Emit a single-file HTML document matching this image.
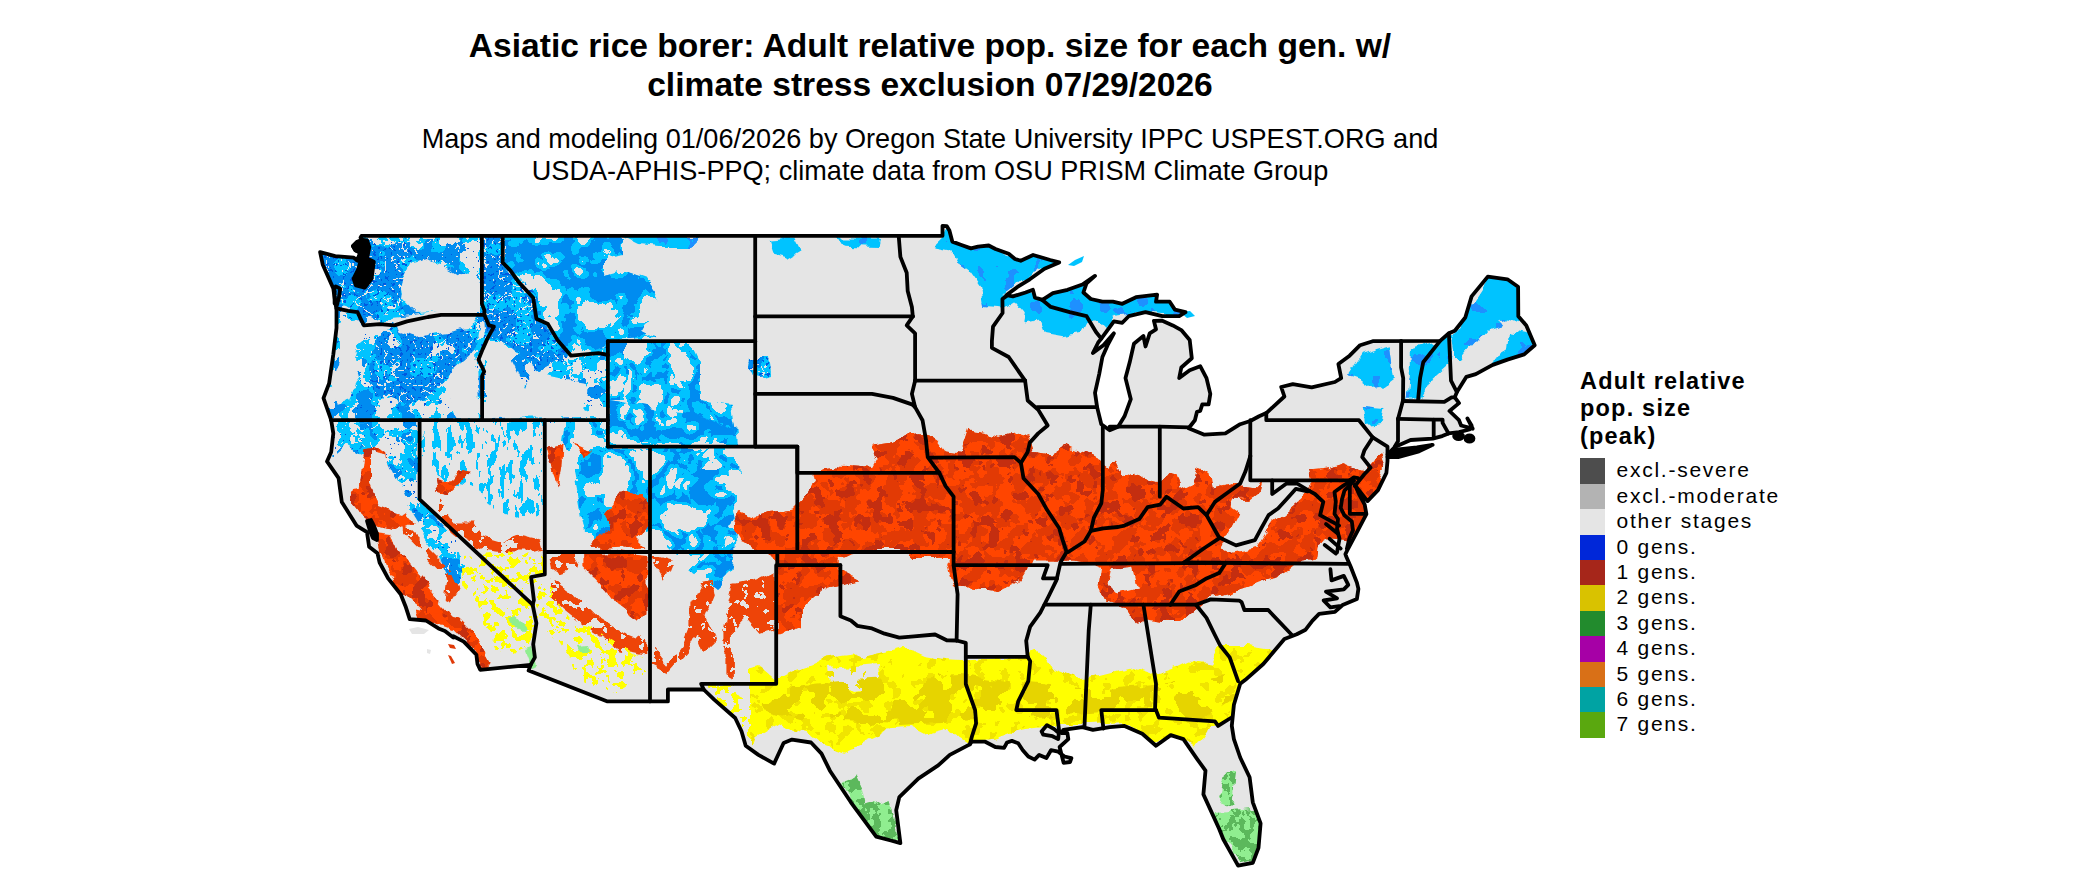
<!DOCTYPE html>
<html><head><meta charset="utf-8">
<style>
html,body{margin:0;padding:0;background:#fff;width:2100px;height:892px;overflow:hidden}
body{position:relative;font-family:"Liberation Sans",sans-serif;color:#000}
.t{position:absolute;left:0;width:1860px;text-align:center;white-space:nowrap}
svg{position:absolute;left:0;top:0}
.lb{position:absolute;left:36.5px;font-size:21px;line-height:27px;letter-spacing:1.75px;white-space:nowrap}
</style></head><body>
<svg width="2100" height="892" viewBox="0 0 2100 892">
<defs><clipPath id="land"><polygon points="361.5,235.8 942.5,235.8 942.5,225.8 946.7,226.1 949.4,230.5 952.3,241.6 961.4,245.0 970.9,248.4 978.0,246.6 988.7,245.5 995.5,249.0 1008.7,253.7 1015.0,259.0 1020.7,260.8 1033.1,255.0 1050.2,260.0 1059.2,262.4 1044.5,268.7 1029.8,279.3 1017.1,287.2 1006.6,295.1 1012.9,296.4 1025.6,292.5 1032.9,289.8 1035.0,297.7 1042.4,299.8 1052.9,293.2 1067.6,289.8 1082.4,284.5 1095.0,275.9 1086.6,283.2 1083.4,292.5 1090.8,299.0 1102.4,301.7 1112.9,301.7 1122.3,303.8 1136.0,297.2 1157.1,294.6 1156.0,301.7 1169.7,301.7 1174.9,309.6 1185.5,312.2 1179.2,316.2 1162.3,316.2 1145.5,312.2 1128.7,316.2 1122.3,322.8 1113.9,321.4 1101.3,338.6 1098.2,342.5 1092.9,353.1 1103.4,345.2 1113.9,333.3 1107.6,345.2 1102.4,357.0 1099.2,374.1 1095.0,392.8 1097.1,407.1 1101.3,424.2 1109.7,430.3 1118.1,426.8 1124.5,416.3 1130.8,399.2 1125.5,378.1 1129.7,362.3 1133.9,343.8 1143.4,335.9 1145.5,346.5 1149.7,333.3 1156.0,329.3 1153.9,320.9 1161.7,320.6 1172.8,325.4 1181.3,330.1 1189.7,339.9 1191.8,358.3 1181.3,367.5 1179.2,378.1 1189.7,370.2 1200.2,366.2 1206.5,378.1 1210.3,393.9 1208.6,404.4 1202.3,404.4 1200.2,411.0 1197.0,411.8 1194.9,420.2 1188.6,428.2 1204.4,434.7 1225.4,433.4 1240.2,424.2 1250.3,421.0 1259.1,416.3 1266.3,413.1 1284.4,396.5 1281.2,387.0 1292.8,384.2 1311.7,387.3 1334.9,382.0 1341.2,378.1 1338.4,364.1 1349.6,355.7 1360.1,345.2 1372.7,341.2 1440.1,340.9 1448.9,333.3 1454.8,330.7 1465.3,317.5 1471.6,296.4 1487.8,276.6 1507.4,279.3 1518.1,286.7 1518.3,316.2 1526.3,325.4 1534.7,345.2 1524.2,354.4 1507.4,359.6 1492.7,364.9 1475.8,374.1 1466.4,376.8 1456.9,392.1 1454.8,397.3 1459.0,403.1 1449.5,411.0 1459.0,420.2 1461.1,425.5 1472.7,428.7 1467.4,418.4 1471.6,425.5 1469.5,429.5 1459.0,432.1 1448.5,433.4 1442.2,436.1 1432.7,438.7 1410.6,440.0 1394.8,447.1 1387.5,454.5 1387.5,461.1 1386.4,472.9 1378.0,490.1 1367.5,501.1 1354.8,484.8 1359.0,494.0 1364.7,504.6 1366.4,514.1 1358.0,530.1 1347.1,550.7 1345.4,554.1 1346.0,556.0 1350.6,566.5 1356.9,582.6 1358.4,588.9 1356.9,598.9 1342.6,605.0 1334.9,611.8 1319.1,613.9 1312.3,620.8 1305.6,629.7 1296.8,634.2 1284.4,639.0 1263.3,664.0 1245.4,679.8 1240.2,683.8 1233.9,704.8 1231.8,725.9 1233.9,739.1 1240.2,757.5 1249.6,777.3 1252.8,802.3 1260.6,823.4 1258.5,847.9 1252.8,862.9 1238.1,865.6 1223.3,839.2 1219.1,828.7 1203.4,794.4 1205.5,770.7 1197.0,758.8 1183.4,739.1 1170.7,735.1 1156.0,745.7 1142.3,733.8 1124.5,725.9 1109.7,727.2 1092.9,729.9 1082.4,727.2 1063.4,729.9 1061.3,733.0 1067.4,733.0 1068.3,739.1 1059.6,747.0 1063.6,762.8 1070.0,762.0 1071.4,758.1 1064.5,756.5 1058.2,751.7 1051.0,750.2 1046.4,758.1 1039.2,754.9 1034.6,759.6 1028.3,756.5 1022.8,750.2 1018.2,743.3 1011.9,740.9 1007.0,742.5 1004.1,747.8 995.3,747.0 985.2,741.7 971.9,741.7 969.8,744.4 949.8,754.9 938.2,765.4 918.3,778.6 899.3,797.1 896.2,810.2 900.4,843.2 890.9,840.5 876.2,836.6 850.9,802.3 829.9,770.7 821.5,753.6 811.0,742.5 792.0,739.6 783.6,743.0 774.1,763.6 758.4,754.9 745.7,745.7 741.5,731.2 735.2,718.0 714.2,699.6 703.7,689.5 667.9,689.5 667.9,701.4 607.5,701.4 528.6,670.6 530.7,664.8 480.2,669.8 477.5,664.0 476.4,654.8 463.8,641.6 453.3,636.3 453.3,637.6 444.9,631.0 438.5,628.4 425.9,620.5 409.7,619.2 405.9,607.3 400.7,594.2 388.1,578.4 379.6,562.5 377.5,553.3 369.1,546.7 367.0,532.2 356.5,525.6 341.8,501.9 338.6,478.2 327.0,461.4 331.2,451.9 333.3,433.4 331.2,420.2 323.5,398.1 329.1,383.4 333.3,354.4 336.5,328.0 336.5,309.6 334.4,296.4 333.3,288.5 322.8,264.8 320.1,252.1 335.2,256.1 353.8,257.7 357.1,260.3 360.5,252.9 355.4,250.3 352.9,246.1 357.1,241.9 362.2,240.0 360.5,237.6"/></clipPath><filter id="bmed" x="0" y="0" width="2100" height="892" filterUnits="userSpaceOnUse" color-interpolation-filters="sRGB"><feTurbulence type="fractalNoise" baseFrequency="0.05" numOctaves="3" seed="301" result="dn"/><feDisplacementMap in="SourceGraphic" in2="dn" scale="12" xChannelSelector="R" yChannelSelector="G" result="d"/><feTurbulence type="fractalNoise" baseFrequency="0.05" numOctaves="4" seed="11" result="t"/><feColorMatrix in="t" type="matrix" values="0 0 0 0 0  0 0 0 0 0  0 0 0 0 0  1 0 0 0 0" result="a"/><feComponentTransfer in="a" result="m"><feFuncA type="discrete" tableValues="0 0 0 0 0 0 0 0 0 0 1 1 1 1 1 1 1 1 1 1"/></feComponentTransfer><feComposite in="d" in2="m" operator="in"/></filter><filter id="bmedd" x="0" y="0" width="2100" height="892" filterUnits="userSpaceOnUse" color-interpolation-filters="sRGB"><feTurbulence type="fractalNoise" baseFrequency="0.05" numOctaves="3" seed="301" result="dn"/><feDisplacementMap in="SourceGraphic" in2="dn" scale="12" xChannelSelector="R" yChannelSelector="G" result="d"/><feTurbulence type="fractalNoise" baseFrequency="0.045" numOctaves="3" seed="23" result="t"/><feColorMatrix in="t" type="matrix" values="0 0 0 0 0  0 0 0 0 0  0 0 0 0 0  1 0 0 0 0" result="a"/><feComponentTransfer in="a" result="m"><feFuncA type="discrete" tableValues="0 0 0 0 0 0 0 0 0 0 0 0 1 1 1 1 1 1 1 1"/></feComponentTransfer><feComposite in="d" in2="m" operator="in"/></filter><filter id="bmeddd" x="0" y="0" width="2100" height="892" filterUnits="userSpaceOnUse" color-interpolation-filters="sRGB"><feTurbulence type="fractalNoise" baseFrequency="0.05" numOctaves="3" seed="301" result="dn"/><feDisplacementMap in="SourceGraphic" in2="dn" scale="12" xChannelSelector="R" yChannelSelector="G" result="d"/><feTurbulence type="fractalNoise" baseFrequency="0.3" numOctaves="2" seed="25" result="t"/><feColorMatrix in="t" type="matrix" values="0 0 0 0 0  0 0 0 0 0  0 0 0 0 0  1 0 0 0 0" result="a"/><feComponentTransfer in="a" result="m"><feFuncA type="discrete" tableValues="0 0 0 0 0 0 0 0 0 0 0 0 0 0 0 1 1 1 1 1"/></feComponentTransfer><feComposite in="d" in2="m" operator="in"/></filter><filter id="gspkm" x="0" y="0" width="2100" height="892" filterUnits="userSpaceOnUse" color-interpolation-filters="sRGB"><feTurbulence type="fractalNoise" baseFrequency="0.05" numOctaves="3" seed="301" result="dn"/><feDisplacementMap in="SourceGraphic" in2="dn" scale="12" xChannelSelector="R" yChannelSelector="G" result="d"/><feTurbulence type="turbulence" baseFrequency="0.07" numOctaves="2" seed="47" result="t"/><feColorMatrix in="t" type="matrix" values="0 0 0 0 0  0 0 0 0 0  0 0 0 0 0  1 0 0 0 0" result="a"/><feComponentTransfer in="a" result="m"><feFuncA type="discrete" tableValues="1 0 0 0 0 0 0 0 0 0 0 0 0 0 0 0 0 0 0 0"/></feComponentTransfer><feComposite in="d" in2="m" operator="in"/></filter><filter id="bden" x="0" y="0" width="2100" height="892" filterUnits="userSpaceOnUse" color-interpolation-filters="sRGB"><feTurbulence type="fractalNoise" baseFrequency="0.05" numOctaves="3" seed="302" result="dn"/><feDisplacementMap in="SourceGraphic" in2="dn" scale="12" xChannelSelector="R" yChannelSelector="G" result="d"/><feTurbulence type="fractalNoise" baseFrequency="0.05" numOctaves="4" seed="31" result="t"/><feColorMatrix in="t" type="matrix" values="0 0 0 0 0  0 0 0 0 0  0 0 0 0 0  1 0 0 0 0" result="a"/><feComponentTransfer in="a" result="m"><feFuncA type="discrete" tableValues="0 0 0 0 0 0 0 0 1 1 1 1 1 1 1 1 1 1 1 1"/></feComponentTransfer><feComposite in="d" in2="m" operator="in"/></filter><filter id="bdend" x="0" y="0" width="2100" height="892" filterUnits="userSpaceOnUse" color-interpolation-filters="sRGB"><feTurbulence type="fractalNoise" baseFrequency="0.05" numOctaves="3" seed="302" result="dn"/><feDisplacementMap in="SourceGraphic" in2="dn" scale="12" xChannelSelector="R" yChannelSelector="G" result="d"/><feTurbulence type="fractalNoise" baseFrequency="0.045" numOctaves="3" seed="41" result="t"/><feColorMatrix in="t" type="matrix" values="0 0 0 0 0  0 0 0 0 0  0 0 0 0 0  1 0 0 0 0" result="a"/><feComponentTransfer in="a" result="m"><feFuncA type="discrete" tableValues="0 0 0 0 0 0 0 0 0 1 1 1 1 1 1 1 1 1 1 1"/></feComponentTransfer><feComposite in="d" in2="m" operator="in"/></filter><filter id="bdendd" x="0" y="0" width="2100" height="892" filterUnits="userSpaceOnUse" color-interpolation-filters="sRGB"><feTurbulence type="fractalNoise" baseFrequency="0.05" numOctaves="3" seed="302" result="dn"/><feDisplacementMap in="SourceGraphic" in2="dn" scale="12" xChannelSelector="R" yChannelSelector="G" result="d"/><feTurbulence type="fractalNoise" baseFrequency="0.3" numOctaves="2" seed="43" result="t"/><feColorMatrix in="t" type="matrix" values="0 0 0 0 0  0 0 0 0 0  0 0 0 0 0  1 0 0 0 0" result="a"/><feComponentTransfer in="a" result="m"><feFuncA type="discrete" tableValues="0 0 0 0 0 0 0 0 0 0 0 0 0 1 1 1 1 1 1 1"/></feComponentTransfer><feComposite in="d" in2="m" operator="in"/></filter><filter id="gspkd" x="0" y="0" width="2100" height="892" filterUnits="userSpaceOnUse" color-interpolation-filters="sRGB"><feTurbulence type="fractalNoise" baseFrequency="0.05" numOctaves="3" seed="302" result="dn"/><feDisplacementMap in="SourceGraphic" in2="dn" scale="12" xChannelSelector="R" yChannelSelector="G" result="d"/><feTurbulence type="turbulence" baseFrequency="0.07" numOctaves="2" seed="48" result="t"/><feColorMatrix in="t" type="matrix" values="0 0 0 0 0  0 0 0 0 0  0 0 0 0 0  1 0 0 0 0" result="a"/><feComponentTransfer in="a" result="m"><feFuncA type="discrete" tableValues="1 0 0 0 0 0 0 0 0 0 0 0 0 0 0 0 0 0 0 0"/></feComponentTransfer><feComposite in="d" in2="m" operator="in"/></filter><filter id="bnet" x="0" y="0" width="2100" height="892" filterUnits="userSpaceOnUse" color-interpolation-filters="sRGB"><feTurbulence type="fractalNoise" baseFrequency="0.05" numOctaves="3" seed="303" result="dn"/><feDisplacementMap in="SourceGraphic" in2="dn" scale="12" xChannelSelector="R" yChannelSelector="G" result="d"/><feTurbulence type="turbulence" baseFrequency="0.03" numOctaves="3" seed="105" result="t"/><feColorMatrix in="t" type="matrix" values="0 0 0 0 0  0 0 0 0 0  0 0 0 0 0  1 0 0 0 0" result="a"/><feComponentTransfer in="a" result="m"><feFuncA type="discrete" tableValues="1 1 1 1 1 1 0 0 0 0 0 0 0 0 0 0 0 0 0 0"/></feComponentTransfer><feComposite in="d" in2="m" operator="in"/></filter><filter id="bnetd" x="0" y="0" width="2100" height="892" filterUnits="userSpaceOnUse" color-interpolation-filters="sRGB"><feTurbulence type="fractalNoise" baseFrequency="0.05" numOctaves="3" seed="303" result="dn"/><feDisplacementMap in="SourceGraphic" in2="dn" scale="12" xChannelSelector="R" yChannelSelector="G" result="d"/><feTurbulence type="turbulence" baseFrequency="0.03" numOctaves="3" seed="105" result="t"/><feColorMatrix in="t" type="matrix" values="0 0 0 0 0  0 0 0 0 0  0 0 0 0 0  1 0 0 0 0" result="a"/><feComponentTransfer in="a" result="m"><feFuncA type="discrete" tableValues="1 1 1 0 0 0 0 0 0 0 0 0 0 0 0 0 0 0 0 0"/></feComponentTransfer><feComposite in="d" in2="m" operator="in"/></filter><filter id="bneth" x="0" y="0" width="2100" height="892" filterUnits="userSpaceOnUse" color-interpolation-filters="sRGB"><feTurbulence type="fractalNoise" baseFrequency="0.05" numOctaves="3" seed="304" result="dn"/><feDisplacementMap in="SourceGraphic" in2="dn" scale="12" xChannelSelector="R" yChannelSelector="G" result="d"/><feTurbulence type="turbulence" baseFrequency="0.03" numOctaves="3" seed="107" result="t"/><feColorMatrix in="t" type="matrix" values="0 0 0 0 0  0 0 0 0 0  0 0 0 0 0  1 0 0 0 0" result="a"/><feComponentTransfer in="a" result="m"><feFuncA type="discrete" tableValues="1 1 1 1 1 1 1 1 0 0 0 0 0 0 0 0 0 0 0 0"/></feComponentTransfer><feComposite in="d" in2="m" operator="in"/></filter><filter id="bnethd" x="0" y="0" width="2100" height="892" filterUnits="userSpaceOnUse" color-interpolation-filters="sRGB"><feTurbulence type="fractalNoise" baseFrequency="0.05" numOctaves="3" seed="304" result="dn"/><feDisplacementMap in="SourceGraphic" in2="dn" scale="12" xChannelSelector="R" yChannelSelector="G" result="d"/><feTurbulence type="turbulence" baseFrequency="0.03" numOctaves="3" seed="107" result="t"/><feColorMatrix in="t" type="matrix" values="0 0 0 0 0  0 0 0 0 0  0 0 0 0 0  1 0 0 0 0" result="a"/><feComponentTransfer in="a" result="m"><feFuncA type="discrete" tableValues="1 1 1 1 1 0 0 0 0 0 0 0 0 0 0 0 0 0 0 0"/></feComponentTransfer><feComposite in="d" in2="m" operator="in"/></filter><filter id="bsp" x="0" y="0" width="2100" height="892" filterUnits="userSpaceOnUse" color-interpolation-filters="sRGB"><feTurbulence type="fractalNoise" baseFrequency="0.05" numOctaves="3" seed="151" result="dn"/><feDisplacementMap in="SourceGraphic" in2="dn" scale="12" xChannelSelector="R" yChannelSelector="G" result="d"/><feTurbulence type="fractalNoise" baseFrequency="0.15 0.06" numOctaves="3" seed="51" result="t"/><feColorMatrix in="t" type="matrix" values="0 0 0 0 0  0 0 0 0 0  0 0 0 0 0  1 0 0 0 0" result="a"/><feComponentTransfer in="a" result="m"><feFuncA type="discrete" tableValues="0 0 0 0 0 0 0 0 0 0 0 1 1 1 1 1 1 1 1 1"/></feComponentTransfer><feComposite in="d" in2="m" operator="in"/></filter><filter id="bsold" x="0" y="0" width="2100" height="892" filterUnits="userSpaceOnUse" color-interpolation-filters="sRGB"><feTurbulence type="fractalNoise" baseFrequency="0.05" numOctaves="3" seed="202" result="dn"/><feDisplacementMap in="SourceGraphic" in2="dn" scale="12" xChannelSelector="R" yChannelSelector="G" result="d"/><feTurbulence type="fractalNoise" baseFrequency="0.06" numOctaves="3" seed="61" result="t"/><feColorMatrix in="t" type="matrix" values="0 0 0 0 0  0 0 0 0 0  0 0 0 0 0  1 0 0 0 0" result="a"/><feComponentTransfer in="a" result="m"><feFuncA type="discrete" tableValues="0 0 0 0 0 0 0 0 0 0 0 0 0 1 1 1 1 1 1 1"/></feComponentTransfer><feComposite in="d" in2="m" operator="in"/></filter><filter id="rmid" x="0" y="0" width="2100" height="892" filterUnits="userSpaceOnUse" color-interpolation-filters="sRGB"><feTurbulence type="fractalNoise" baseFrequency="0.05" numOctaves="3" seed="201" result="dn"/><feDisplacementMap in="SourceGraphic" in2="dn" scale="12" xChannelSelector="R" yChannelSelector="G" result="d"/><feTurbulence type="fractalNoise" baseFrequency="0.07" numOctaves="3" seed="71" result="t"/><feColorMatrix in="t" type="matrix" values="0 0 0 0 0  0 0 0 0 0  0 0 0 0 0  1 0 0 0 0" result="a"/><feComponentTransfer in="a" result="m"><feFuncA type="discrete" tableValues="0 0 0 0 0 0 0 0 0 0 1 1 1 1 1 1 1 1 1 1"/></feComponentTransfer><feComposite in="d" in2="m" operator="in"/></filter><filter id="rdark" x="0" y="0" width="2100" height="892" filterUnits="userSpaceOnUse" color-interpolation-filters="sRGB"><feTurbulence type="fractalNoise" baseFrequency="0.05" numOctaves="3" seed="201" result="dn"/><feDisplacementMap in="SourceGraphic" in2="dn" scale="12" xChannelSelector="R" yChannelSelector="G" result="d"/><feTurbulence type="fractalNoise" baseFrequency="0.07" numOctaves="3" seed="73" result="t"/><feColorMatrix in="t" type="matrix" values="0 0 0 0 0  0 0 0 0 0  0 0 0 0 0  1 0 0 0 0" result="a"/><feComponentTransfer in="a" result="m"><feFuncA type="discrete" tableValues="0 0 0 0 0 0 0 0 0 0 0 0 1 1 1 1 1 1 1 1"/></feComponentTransfer><feComposite in="d" in2="m" operator="in"/></filter><filter id="rsp2" x="0" y="0" width="2100" height="892" filterUnits="userSpaceOnUse" color-interpolation-filters="sRGB"><feTurbulence type="fractalNoise" baseFrequency="0.05" numOctaves="3" seed="183" result="dn"/><feDisplacementMap in="SourceGraphic" in2="dn" scale="12" xChannelSelector="R" yChannelSelector="G" result="d"/><feTurbulence type="fractalNoise" baseFrequency="0.1" numOctaves="3" seed="83" result="t"/><feColorMatrix in="t" type="matrix" values="0 0 0 0 0  0 0 0 0 0  0 0 0 0 0  1 0 0 0 0" result="a"/><feComponentTransfer in="a" result="m"><feFuncA type="discrete" tableValues="0 0 0 0 0 0 0 0 1 1 1 1 1 1 1 1 1 1 1 1"/></feComponentTransfer><feComposite in="d" in2="m" operator="in"/></filter><filter id="rsp" x="0" y="0" width="2100" height="892" filterUnits="userSpaceOnUse" color-interpolation-filters="sRGB"><feTurbulence type="fractalNoise" baseFrequency="0.05" numOctaves="3" seed="181" result="dn"/><feDisplacementMap in="SourceGraphic" in2="dn" scale="12" xChannelSelector="R" yChannelSelector="G" result="d"/><feTurbulence type="fractalNoise" baseFrequency="0.12" numOctaves="3" seed="81" result="t"/><feColorMatrix in="t" type="matrix" values="0 0 0 0 0  0 0 0 0 0  0 0 0 0 0  1 0 0 0 0" result="a"/><feComponentTransfer in="a" result="m"><feFuncA type="discrete" tableValues="0 0 0 0 0 0 0 1 1 1 1 1 1 1 1 1 1 1 1 1"/></feComponentTransfer><feComposite in="d" in2="m" operator="in"/></filter><filter id="ymid" x="0" y="0" width="2100" height="892" filterUnits="userSpaceOnUse" color-interpolation-filters="sRGB"><feTurbulence type="fractalNoise" baseFrequency="0.05" numOctaves="3" seed="202" result="dn"/><feDisplacementMap in="SourceGraphic" in2="dn" scale="12" xChannelSelector="R" yChannelSelector="G" result="d"/><feTurbulence type="fractalNoise" baseFrequency="0.08" numOctaves="3" seed="91" result="t"/><feColorMatrix in="t" type="matrix" values="0 0 0 0 0  0 0 0 0 0  0 0 0 0 0  1 0 0 0 0" result="a"/><feComponentTransfer in="a" result="m"><feFuncA type="discrete" tableValues="0 0 0 0 0 0 0 0 0 0 0 0 1 1 1 1 1 1 1 1"/></feComponentTransfer><feComposite in="d" in2="m" operator="in"/></filter><filter id="ycore" x="0" y="0" width="2100" height="892" filterUnits="userSpaceOnUse" color-interpolation-filters="sRGB"><feTurbulence type="fractalNoise" baseFrequency="0.05" numOctaves="3" seed="203" result="dn"/><feDisplacementMap in="SourceGraphic" in2="dn" scale="12" xChannelSelector="R" yChannelSelector="G" result="d"/><feTurbulence type="fractalNoise" baseFrequency="0.04" numOctaves="3" seed="97" result="t"/><feColorMatrix in="t" type="matrix" values="0 0 0 0 0  0 0 0 0 0  0 0 0 0 0  1 0 0 0 0" result="a"/><feComponentTransfer in="a" result="m"><feFuncA type="discrete" tableValues="0 0 0 0 0 0 0 0 0 0 1 1 1 1 1 1 1 1 1 1"/></feComponentTransfer><feComposite in="d" in2="m" operator="in"/></filter><filter id="ysp" x="0" y="0" width="2100" height="892" filterUnits="userSpaceOnUse" color-interpolation-filters="sRGB"><feTurbulence type="fractalNoise" baseFrequency="0.05" numOctaves="3" seed="193" result="dn"/><feDisplacementMap in="SourceGraphic" in2="dn" scale="12" xChannelSelector="R" yChannelSelector="G" result="d"/><feTurbulence type="fractalNoise" baseFrequency="0.12" numOctaves="3" seed="93" result="t"/><feColorMatrix in="t" type="matrix" values="0 0 0 0 0  0 0 0 0 0  0 0 0 0 0  1 0 0 0 0" result="a"/><feComponentTransfer in="a" result="m"><feFuncA type="discrete" tableValues="0 0 0 0 0 0 0 0 0 0 0 1 1 1 1 1 1 1 1 1"/></feComponentTransfer><feComposite in="d" in2="m" operator="in"/></filter><filter id="gmid" x="0" y="0" width="2100" height="892" filterUnits="userSpaceOnUse" color-interpolation-filters="sRGB"><feTurbulence type="fractalNoise" baseFrequency="0.05" numOctaves="3" seed="201" result="dn"/><feDisplacementMap in="SourceGraphic" in2="dn" scale="12" xChannelSelector="R" yChannelSelector="G" result="d"/><feTurbulence type="fractalNoise" baseFrequency="0.1" numOctaves="3" seed="95" result="t"/><feColorMatrix in="t" type="matrix" values="0 0 0 0 0  0 0 0 0 0  0 0 0 0 0  1 0 0 0 0" result="a"/><feComponentTransfer in="a" result="m"><feFuncA type="discrete" tableValues="0 0 0 0 0 0 0 0 0 0 1 1 1 1 1 1 1 1 1 1"/></feComponentTransfer><feComposite in="d" in2="m" operator="in"/></filter><filter id="rg1" x="0" y="0" width="2100" height="892" filterUnits="userSpaceOnUse" color-interpolation-filters="sRGB"><feTurbulence type="fractalNoise" baseFrequency="0.05" numOctaves="3" seed="201" result="dn"/><feDisplacementMap in="SourceGraphic" in2="dn" scale="12" xChannelSelector="R" yChannelSelector="G"/></filter><filter id="rg2" x="0" y="0" width="2100" height="892" filterUnits="userSpaceOnUse" color-interpolation-filters="sRGB"><feTurbulence type="fractalNoise" baseFrequency="0.05" numOctaves="3" seed="202" result="dn"/><feDisplacementMap in="SourceGraphic" in2="dn" scale="12" xChannelSelector="R" yChannelSelector="G"/></filter></defs>
<polygon points="361.5,235.8 942.5,235.8 942.5,225.8 946.7,226.1 949.4,230.5 952.3,241.6 961.4,245.0 970.9,248.4 978.0,246.6 988.7,245.5 995.5,249.0 1008.7,253.7 1015.0,259.0 1020.7,260.8 1033.1,255.0 1050.2,260.0 1059.2,262.4 1044.5,268.7 1029.8,279.3 1017.1,287.2 1006.6,295.1 1012.9,296.4 1025.6,292.5 1032.9,289.8 1035.0,297.7 1042.4,299.8 1052.9,293.2 1067.6,289.8 1082.4,284.5 1095.0,275.9 1086.6,283.2 1083.4,292.5 1090.8,299.0 1102.4,301.7 1112.9,301.7 1122.3,303.8 1136.0,297.2 1157.1,294.6 1156.0,301.7 1169.7,301.7 1174.9,309.6 1185.5,312.2 1179.2,316.2 1162.3,316.2 1145.5,312.2 1128.7,316.2 1122.3,322.8 1113.9,321.4 1101.3,338.6 1098.2,342.5 1092.9,353.1 1103.4,345.2 1113.9,333.3 1107.6,345.2 1102.4,357.0 1099.2,374.1 1095.0,392.8 1097.1,407.1 1101.3,424.2 1109.7,430.3 1118.1,426.8 1124.5,416.3 1130.8,399.2 1125.5,378.1 1129.7,362.3 1133.9,343.8 1143.4,335.9 1145.5,346.5 1149.7,333.3 1156.0,329.3 1153.9,320.9 1161.7,320.6 1172.8,325.4 1181.3,330.1 1189.7,339.9 1191.8,358.3 1181.3,367.5 1179.2,378.1 1189.7,370.2 1200.2,366.2 1206.5,378.1 1210.3,393.9 1208.6,404.4 1202.3,404.4 1200.2,411.0 1197.0,411.8 1194.9,420.2 1188.6,428.2 1204.4,434.7 1225.4,433.4 1240.2,424.2 1250.3,421.0 1259.1,416.3 1266.3,413.1 1284.4,396.5 1281.2,387.0 1292.8,384.2 1311.7,387.3 1334.9,382.0 1341.2,378.1 1338.4,364.1 1349.6,355.7 1360.1,345.2 1372.7,341.2 1440.1,340.9 1448.9,333.3 1454.8,330.7 1465.3,317.5 1471.6,296.4 1487.8,276.6 1507.4,279.3 1518.1,286.7 1518.3,316.2 1526.3,325.4 1534.7,345.2 1524.2,354.4 1507.4,359.6 1492.7,364.9 1475.8,374.1 1466.4,376.8 1456.9,392.1 1454.8,397.3 1459.0,403.1 1449.5,411.0 1459.0,420.2 1461.1,425.5 1472.7,428.7 1467.4,418.4 1471.6,425.5 1469.5,429.5 1459.0,432.1 1448.5,433.4 1442.2,436.1 1432.7,438.7 1410.6,440.0 1394.8,447.1 1387.5,454.5 1387.5,461.1 1386.4,472.9 1378.0,490.1 1367.5,501.1 1354.8,484.8 1359.0,494.0 1364.7,504.6 1366.4,514.1 1358.0,530.1 1347.1,550.7 1345.4,554.1 1346.0,556.0 1350.6,566.5 1356.9,582.6 1358.4,588.9 1356.9,598.9 1342.6,605.0 1334.9,611.8 1319.1,613.9 1312.3,620.8 1305.6,629.7 1296.8,634.2 1284.4,639.0 1263.3,664.0 1245.4,679.8 1240.2,683.8 1233.9,704.8 1231.8,725.9 1233.9,739.1 1240.2,757.5 1249.6,777.3 1252.8,802.3 1260.6,823.4 1258.5,847.9 1252.8,862.9 1238.1,865.6 1223.3,839.2 1219.1,828.7 1203.4,794.4 1205.5,770.7 1197.0,758.8 1183.4,739.1 1170.7,735.1 1156.0,745.7 1142.3,733.8 1124.5,725.9 1109.7,727.2 1092.9,729.9 1082.4,727.2 1063.4,729.9 1061.3,733.0 1067.4,733.0 1068.3,739.1 1059.6,747.0 1063.6,762.8 1070.0,762.0 1071.4,758.1 1064.5,756.5 1058.2,751.7 1051.0,750.2 1046.4,758.1 1039.2,754.9 1034.6,759.6 1028.3,756.5 1022.8,750.2 1018.2,743.3 1011.9,740.9 1007.0,742.5 1004.1,747.8 995.3,747.0 985.2,741.7 971.9,741.7 969.8,744.4 949.8,754.9 938.2,765.4 918.3,778.6 899.3,797.1 896.2,810.2 900.4,843.2 890.9,840.5 876.2,836.6 850.9,802.3 829.9,770.7 821.5,753.6 811.0,742.5 792.0,739.6 783.6,743.0 774.1,763.6 758.4,754.9 745.7,745.7 741.5,731.2 735.2,718.0 714.2,699.6 703.7,689.5 667.9,689.5 667.9,701.4 607.5,701.4 528.6,670.6 530.7,664.8 480.2,669.8 477.5,664.0 476.4,654.8 463.8,641.6 453.3,636.3 453.3,637.6 444.9,631.0 438.5,628.4 425.9,620.5 409.7,619.2 405.9,607.3 400.7,594.2 388.1,578.4 379.6,562.5 377.5,553.3 369.1,546.7 367.0,532.2 356.5,525.6 341.8,501.9 338.6,478.2 327.0,461.4 331.2,451.9 333.3,433.4 331.2,420.2 323.5,398.1 329.1,383.4 333.3,354.4 336.5,328.0 336.5,309.6 334.4,296.4 333.3,288.5 322.8,264.8 320.1,252.1 335.2,256.1 353.8,257.7 357.1,260.3 360.5,252.9 355.4,250.3 352.9,246.1 357.1,241.9 362.2,240.0 360.5,237.6" fill="#e5e5e5" stroke="none"/>
<g fill="#00c3ff"><polygon points="1068.0,265.0 1075.0,260.0 1084.0,256.0 1082.0,262.0 1074.0,266.0"/><polygon points="1180.0,312.0 1190.0,311.0 1195.0,316.0 1187.0,318.0"/></g>
<g fill="#e5e5e5"><polygon points="409.0,629.0 418.0,627.0 429.0,630.0 424.0,634.0 412.0,634.0"/><polygon points="427.0,649.0 431.0,650.0 430.0,654.0 427.0,653.0"/></g>
<g fill="#e03a08"><polygon points="448.0,644.0 454.0,645.0 456.0,649.0 450.0,648.0"/><polygon points="448.0,655.0 451.0,656.0 455.0,663.0 452.0,664.0"/></g>
<g clip-path="url(#land)"><g fill="#00c3ff" filter="url(#bmed)"><polygon points="318.0,250.0 340.0,236.0 503.0,236.0 503.0,262.0 537.0,296.0 536.0,326.0 547.0,324.0 569.0,356.0 604.0,348.0 608.0,341.0 607.0,420.0 540.0,420.0 330.0,420.0 322.0,400.0 328.0,330.0 325.0,300.0"/><polygon points="392.3,461.5 418.1,482.2 420.7,500.2 436.1,518.2 459.3,544.0 464.5,564.6 459.3,585.3 449.0,585.3 438.7,554.3 423.2,531.1 407.8,507.9 392.3,487.3 382.0,469.3"/><polygon points="329.2,420.3 418.1,420.3 418.1,497.6 400.0,477.0 382.0,469.3 366.5,456.4 348.5,446.1 330.5,461.5"/></g><g fill="#008cf0" filter="url(#bmedd)"><polygon points="318.0,250.0 340.0,236.0 503.0,236.0 503.0,262.0 537.0,296.0 536.0,326.0 547.0,324.0 569.0,356.0 604.0,348.0 608.0,341.0 607.0,420.0 540.0,420.0 330.0,420.0 322.0,400.0 328.0,330.0 325.0,300.0"/><polygon points="392.3,461.5 418.1,482.2 420.7,500.2 436.1,518.2 459.3,544.0 464.5,564.6 459.3,585.3 449.0,585.3 438.7,554.3 423.2,531.1 407.8,507.9 392.3,487.3 382.0,469.3"/><polygon points="329.2,420.3 418.1,420.3 418.1,497.6 400.0,477.0 382.0,469.3 366.5,456.4 348.5,446.1 330.5,461.5"/></g><g fill="#005ae1" filter="url(#bmeddd)"><polygon points="318.0,250.0 340.0,236.0 503.0,236.0 503.0,262.0 537.0,296.0 536.0,326.0 547.0,324.0 569.0,356.0 604.0,348.0 608.0,341.0 607.0,420.0 540.0,420.0 330.0,420.0 322.0,400.0 328.0,330.0 325.0,300.0"/><polygon points="392.3,461.5 418.1,482.2 420.7,500.2 436.1,518.2 459.3,544.0 464.5,564.6 459.3,585.3 449.0,585.3 438.7,554.3 423.2,531.1 407.8,507.9 392.3,487.3 382.0,469.3"/><polygon points="329.2,420.3 418.1,420.3 418.1,497.6 400.0,477.0 382.0,469.3 366.5,456.4 348.5,446.1 330.5,461.5"/></g><g fill="#00c3ff" filter="url(#bsp)"><polygon points="420.7,420.3 541.8,420.3 541.8,513.1 521.2,518.2 495.4,507.9 469.6,487.3 443.9,482.2 423.2,461.5"/></g><g fill="#00c3ff" filter="url(#bnet)"><polygon points="608.0,341.0 690.0,341.0 700.0,362.0 700.0,399.0 732.0,404.0 737.0,444.0 608.0,444.0"/><polygon points="565.0,420.0 607.0,420.0 607.0,447.0 650.0,447.0 650.0,530.0 625.0,540.0 600.0,545.0 585.0,540.0 578.0,500.0 570.0,460.0 562.0,440.0"/><polygon points="649.9,447.1 737.3,447.1 741.8,494.2 735.1,512.1 737.3,543.5 733.0,571.0 716.0,588.0 705.0,580.0 695.0,573.0 680.0,560.0 665.0,545.0 652.0,534.0 649.9,500.0"/></g><g fill="#008cf0" filter="url(#bnetd)"><polygon points="608.0,341.0 690.0,341.0 700.0,362.0 700.0,399.0 732.0,404.0 737.0,444.0 608.0,444.0"/><polygon points="565.0,420.0 607.0,420.0 607.0,447.0 650.0,447.0 650.0,530.0 625.0,540.0 600.0,545.0 585.0,540.0 578.0,500.0 570.0,460.0 562.0,440.0"/><polygon points="649.9,447.1 737.3,447.1 741.8,494.2 735.1,512.1 737.3,543.5 733.0,571.0 716.0,588.0 705.0,580.0 695.0,573.0 680.0,560.0 665.0,545.0 652.0,534.0 649.9,500.0"/></g><g fill="#00c3ff" filter="url(#bneth)"><polygon points="503.0,236.0 624.0,236.0 624.0,254.0 605.0,257.0 605.0,275.0 624.0,270.0 647.0,278.0 658.0,293.0 653.0,312.0 642.0,330.0 658.0,338.0 608.0,341.0 604.0,348.0 569.0,356.0 547.0,324.0 536.0,326.0 537.0,296.0 503.0,262.0"/><polygon points="608.0,400.0 640.0,405.0 700.0,415.0 735.0,430.0 737.0,444.0 608.0,444.0"/><polygon points="680.0,470.0 725.0,470.0 735.0,520.0 725.0,545.0 705.0,540.0 690.0,510.0"/><polygon points="608.0,341.0 625.0,341.0 625.0,400.0 608.0,400.0"/></g><g fill="#008cf0" filter="url(#bnethd)"><polygon points="503.0,236.0 624.0,236.0 624.0,254.0 605.0,257.0 605.0,275.0 624.0,270.0 647.0,278.0 658.0,293.0 653.0,312.0 642.0,330.0 658.0,338.0 608.0,341.0 604.0,348.0 569.0,356.0 547.0,324.0 536.0,326.0 537.0,296.0 503.0,262.0"/><polygon points="608.0,400.0 640.0,405.0 700.0,415.0 735.0,430.0 737.0,444.0 608.0,444.0"/><polygon points="680.0,470.0 725.0,470.0 735.0,520.0 725.0,545.0 705.0,540.0 690.0,510.0"/><polygon points="608.0,341.0 625.0,341.0 625.0,400.0 608.0,400.0"/></g><g fill="#00c3ff" filter="url(#bden)"><polygon points="482.0,236.0 503.0,236.0 503.0,262.0 537.0,296.0 536.0,326.0 547.0,324.0 569.0,356.0 540.0,372.0 503.0,342.0 485.0,342.0 482.0,300.0"/><polygon points="404.2,321.4 480.4,319.2 476.0,346.1 453.5,368.5 435.6,395.4 404.2,404.4 377.3,395.4 368.3,368.5 377.3,337.1"/><polygon points="321.2,254.2 361.6,258.6 377.3,247.4 408.7,238.5 413.2,254.2 399.7,287.8 404.2,310.2 377.3,319.2 359.3,310.2 339.2,303.5"/><polygon points="750.0,358.0 768.0,358.0 770.0,375.0 758.0,378.0 749.0,368.0"/></g><g fill="#008cf0" filter="url(#bdend)"><polygon points="482.0,236.0 503.0,236.0 503.0,262.0 537.0,296.0 536.0,326.0 547.0,324.0 569.0,356.0 540.0,372.0 503.0,342.0 485.0,342.0 482.0,300.0"/><polygon points="404.2,321.4 480.4,319.2 476.0,346.1 453.5,368.5 435.6,395.4 404.2,404.4 377.3,395.4 368.3,368.5 377.3,337.1"/><polygon points="321.2,254.2 361.6,258.6 377.3,247.4 408.7,238.5 413.2,254.2 399.7,287.8 404.2,310.2 377.3,319.2 359.3,310.2 339.2,303.5"/><polygon points="750.0,358.0 768.0,358.0 770.0,375.0 758.0,378.0 749.0,368.0"/></g><g fill="#005ae1" filter="url(#bdendd)"><polygon points="482.0,236.0 503.0,236.0 503.0,262.0 537.0,296.0 536.0,326.0 547.0,324.0 569.0,356.0 540.0,372.0 503.0,342.0 485.0,342.0 482.0,300.0"/><polygon points="404.2,321.4 480.4,319.2 476.0,346.1 453.5,368.5 435.6,395.4 404.2,404.4 377.3,395.4 368.3,368.5 377.3,337.1"/><polygon points="321.2,254.2 361.6,258.6 377.3,247.4 408.7,238.5 413.2,254.2 399.7,287.8 404.2,310.2 377.3,319.2 359.3,310.2 339.2,303.5"/><polygon points="750.0,358.0 768.0,358.0 770.0,375.0 758.0,378.0 749.0,368.0"/></g><g fill="#e5e5e5" filter="url(#gspkm)"><polygon points="318.0,250.0 340.0,236.0 503.0,236.0 503.0,262.0 537.0,296.0 536.0,326.0 547.0,324.0 569.0,356.0 604.0,348.0 608.0,341.0 607.0,420.0 540.0,420.0 330.0,420.0 322.0,400.0 328.0,330.0 325.0,300.0"/><polygon points="392.3,461.5 418.1,482.2 420.7,500.2 436.1,518.2 459.3,544.0 464.5,564.6 459.3,585.3 449.0,585.3 438.7,554.3 423.2,531.1 407.8,507.9 392.3,487.3 382.0,469.3"/><polygon points="329.2,420.3 418.1,420.3 418.1,497.6 400.0,477.0 382.0,469.3 366.5,456.4 348.5,446.1 330.5,461.5"/></g><g fill="#e5e5e5" filter="url(#gspkd)"><polygon points="482.0,236.0 503.0,236.0 503.0,262.0 537.0,296.0 536.0,326.0 547.0,324.0 569.0,356.0 540.0,372.0 503.0,342.0 485.0,342.0 482.0,300.0"/><polygon points="404.2,321.4 480.4,319.2 476.0,346.1 453.5,368.5 435.6,395.4 404.2,404.4 377.3,395.4 368.3,368.5 377.3,337.1"/><polygon points="321.2,254.2 361.6,258.6 377.3,247.4 408.7,238.5 413.2,254.2 399.7,287.8 404.2,310.2 377.3,319.2 359.3,310.2 339.2,303.5"/><polygon points="750.0,358.0 768.0,358.0 770.0,375.0 758.0,378.0 749.0,368.0"/></g><g fill="#e5e5e5" filter="url(#rg1)"><polygon points="412.0,262.0 430.0,258.0 445.0,266.0 458.0,274.0 476.0,276.0 481.0,285.0 481.0,313.0 443.0,313.0 415.0,314.0 401.0,299.0 404.0,280.0"/><polygon points="339.0,324.0 359.0,321.0 364.0,337.0 355.0,360.0 359.0,382.0 350.0,400.0 337.0,404.0 332.0,382.0 339.0,360.0"/><polygon points="392.0,318.0 440.0,313.0 478.0,313.0 470.0,328.0 440.0,333.0 415.0,338.0 398.0,333.0"/><polygon points="452.0,372.0 476.0,350.0 480.0,418.0 458.0,418.0 445.0,395.0"/><polygon points="485.0,342.0 503.0,342.0 525.0,386.0 531.0,372.0 568.0,380.0 587.0,383.0 584.0,409.0 600.0,417.0 485.0,418.0"/></g><g fill="#00c3ff" filter="url(#rg2)"><polygon points="934.7,245.1 942.6,237.3 945.7,227.8 950.4,227.8 953.5,240.4 974.0,245.1 992.8,245.1 1000.6,253.0 1019.5,257.7 1033.6,254.5 1058.7,260.8 1024.2,278.1 1005.4,293.8 1032.0,290.6 1036.8,295.4 1047.7,293.8 1083.8,279.7 1099.5,276.5 1085.4,290.6 1102.7,296.9 1118.4,300.1 1156.1,293.8 1174.9,301.6 1189.0,312.6 1187.5,317.3 1178.0,315.8 1149.8,312.6 1126.2,314.2 1113.7,315.8 1105.8,329.9 1096.4,320.5 1087.0,320.5 1080.7,333.0 1063.4,336.2 1044.6,333.0 1039.9,320.5 1024.2,323.6 1025.8,314.2 1014.8,301.6 1002.2,309.5 983.4,307.9 980.2,285.9 969.2,270.2 958.3,262.4 952.0,251.4 934.7,248.3"/><polygon points="1460.0,320.0 1490.0,310.0 1500.0,325.0 1470.0,335.0"/><polygon points="1468.4,309.0 1489.7,276.0 1508.9,278.1 1519.5,286.6 1519.5,321.8 1506.7,317.5 1494.0,321.8 1483.3,334.5 1470.5,349.4 1462.0,360.1 1453.5,360.1 1449.2,334.5 1457.8,328.1"/><polygon points="1511.0,330.3 1532.3,334.5 1534.4,347.3 1511.0,358.0 1496.1,366.5 1479.0,375.0 1491.8,360.1 1508.9,349.4"/><polygon points="1408.8,349.4 1440.7,340.9 1449.2,334.5 1449.2,362.2 1430.1,379.2 1419.4,398.4 1406.7,398.4 1408.8,375.0"/><polygon points="1361.9,355.8 1391.8,347.3 1396.0,379.2 1379.0,392.0 1361.9,379.2 1349.2,375.0"/><polygon points="1361.9,406.9 1385.4,409.1 1383.2,421.8 1364.1,424.0"/><polygon points="767.7,240.6 793.2,238.5 799.6,251.3 789.0,257.7 771.9,253.4"/><polygon points="831.6,237.5 880.5,237.5 878.4,244.9 846.5,243.8"/><polygon points="624.0,236.0 700.0,236.0 690.0,246.0 660.0,246.0 640.0,244.0"/></g><g fill="#1e90ff" filter="url(#bsold)"><polygon points="934.7,245.1 942.6,237.3 945.7,227.8 950.4,227.8 953.5,240.4 974.0,245.1 992.8,245.1 1000.6,253.0 1019.5,257.7 1033.6,254.5 1058.7,260.8 1024.2,278.1 1005.4,293.8 1032.0,290.6 1036.8,295.4 1047.7,293.8 1083.8,279.7 1099.5,276.5 1085.4,290.6 1102.7,296.9 1118.4,300.1 1156.1,293.8 1174.9,301.6 1189.0,312.6 1187.5,317.3 1178.0,315.8 1149.8,312.6 1126.2,314.2 1113.7,315.8 1105.8,329.9 1096.4,320.5 1087.0,320.5 1080.7,333.0 1063.4,336.2 1044.6,333.0 1039.9,320.5 1024.2,323.6 1025.8,314.2 1014.8,301.6 1002.2,309.5 983.4,307.9 980.2,285.9 969.2,270.2 958.3,262.4 952.0,251.4 934.7,248.3"/><polygon points="1460.0,320.0 1490.0,310.0 1500.0,325.0 1470.0,335.0"/><polygon points="1468.4,309.0 1489.7,276.0 1508.9,278.1 1519.5,286.6 1519.5,321.8 1506.7,317.5 1494.0,321.8 1483.3,334.5 1470.5,349.4 1462.0,360.1 1453.5,360.1 1449.2,334.5 1457.8,328.1"/><polygon points="1511.0,330.3 1532.3,334.5 1534.4,347.3 1511.0,358.0 1496.1,366.5 1479.0,375.0 1491.8,360.1 1508.9,349.4"/><polygon points="1408.8,349.4 1440.7,340.9 1449.2,334.5 1449.2,362.2 1430.1,379.2 1419.4,398.4 1406.7,398.4 1408.8,375.0"/><polygon points="1361.9,355.8 1391.8,347.3 1396.0,379.2 1379.0,392.0 1361.9,379.2 1349.2,375.0"/><polygon points="1361.9,406.9 1385.4,409.1 1383.2,421.8 1364.1,424.0"/><polygon points="767.7,240.6 793.2,238.5 799.6,251.3 789.0,257.7 771.9,253.4"/><polygon points="831.6,237.5 880.5,237.5 878.4,244.9 846.5,243.8"/><polygon points="624.0,236.0 700.0,236.0 690.0,246.0 660.0,246.0 640.0,244.0"/></g><g fill="#ff4500" filter="url(#rg1)"><polygon points="751.1,518.5 772.1,511.1 794.3,508.7 799.2,503.7 806.6,496.3 814.0,481.5 811.5,469.2 838.7,465.5 873.2,468.0 878.1,459.3 873.2,444.5 890.5,442.1 907.7,433.4 922.5,432.2 929.9,434.7 937.3,439.6 944.7,449.5 962.0,451.9 969.4,429.7 986.7,432.2 1000.0,437.1 1019.7,432.2 1029.6,434.7 1034.5,451.9 1049.3,454.4 1064.1,444.5 1081.4,451.9 1098.6,459.3 1108.5,466.7 1115.9,461.8 1123.3,476.6 1133.2,471.7 1148.0,481.5 1157.8,484.0 1167.7,471.7 1177.6,474.1 1182.5,488.9 1192.4,484.0 1197.3,469.2 1207.2,474.1 1209.6,488.9 1221.9,486.4 1236.7,484.0 1256.5,486.4 1261.4,481.5 1258.9,491.4 1249.1,498.8 1236.7,498.8 1231.8,508.6 1239.2,513.6 1229.3,533.3 1221.9,548.1 1231.8,553.0 1256.5,548.1 1271.3,523.4 1295.9,503.7 1310.7,488.9 1308.3,471.7 1330.5,469.2 1345.3,464.3 1365.0,471.7 1380.0,451.9 1385.0,470.0 1375.0,500.0 1380.0,533.3 1358.0,545.0 1345.0,540.0 1330.0,538.0 1318.0,545.0 1316.0,560.4 1295.9,562.9 1283.6,572.8 1258.9,582.6 1246.6,587.6 1226.9,592.5 1209.6,597.4 1197.3,607.3 1180.0,622.1 1162.8,622.1 1145.5,619.6 1138.1,624.5 1128.2,607.3 1106.0,602.4 1098.6,587.6 1101.1,567.8 1088.8,562.9 1074.0,560.4 1049.3,560.4 1032.1,560.4 1019.7,580.2 1000.0,590.1 974.3,587.6 954.6,587.6 952.1,580.2 947.2,562.9 952.1,558.0 937.3,558.0 912.7,558.0 902.8,548.1 868.3,548.1 838.7,555.5 838.7,570.3 858.4,580.2 826.3,587.6 814.0,597.5 801.7,612.3 789.3,629.5 776.9,633.3 776.9,565.0 764.0,550.0 742.0,541.0 733.0,525.0 737.0,512.0 754.8,520.0"/><polygon points="776.9,565.1 837.8,565.1 837.8,575.9 823.5,586.6 802.0,611.7 802.0,626.1 780.4,633.3 776.9,633.3"/><polygon points="953.8,565.6 1023.7,565.6 1018.4,579.0 980.7,589.8 953.8,587.1"/><polygon points="364.4,447.3 376.7,446.0 373.0,469.4 370.5,486.7 375.5,504.0 384.1,511.4 376.7,516.3 369.3,511.4 357.0,504.0 350.8,491.6 359.4,489.2 361.9,469.4"/><polygon points="376.7,447.3 384.1,452.2 386.6,471.9 396.4,489.2 406.3,506.4 413.7,523.7 406.3,523.7 396.4,508.9 386.6,491.6 379.2,469.4"/><polygon points="352.0,488.0 370.0,486.0 385.0,505.0 404.0,508.0 408.0,524.0 395.0,530.0 378.0,527.0 362.0,515.0 350.0,500.0"/><polygon points="376.0,531.0 392.0,533.0 398.0,550.0 412.0,568.0 427.0,587.0 442.0,605.0 452.0,618.0 440.0,622.0 426.0,614.0 411.0,600.0 397.0,585.0 386.0,568.0 380.0,550.0"/><polygon points="413.7,607.5 435.9,612.4 458.1,617.4 472.9,632.2 480.0,642.0 467.9,644.5 453.1,629.7 433.4,622.3 416.2,617.4"/><polygon points="466.0,636.0 476.0,640.0 486.0,652.0 492.0,664.0 482.0,666.0 474.0,655.0 468.0,645.0"/><polygon points="546.7,449.3 562.4,444.8 561.3,467.3 557.9,485.2 553.5,474.0"/><polygon points="575.9,442.6 591.6,449.3 584.8,456.1"/><polygon points="605.1,511.3 620.6,490.6 643.8,493.2 646.3,521.6 636.0,537.1 646.3,547.4 589.6,550.0 599.9,534.5 610.2,529.3"/><polygon points="584.4,555.1 620.6,552.5 646.3,555.1 646.3,614.4 636.0,619.6 615.4,604.1 599.9,583.5 584.4,568.0"/><polygon points="435.9,479.3 453.1,481.8 458.1,469.4 470.4,471.9 458.1,484.2 448.2,494.1 438.3,491.6"/></g><g fill="#e23a05" filter="url(#rmid)"><polygon points="751.1,518.5 772.1,511.1 794.3,508.7 799.2,503.7 806.6,496.3 814.0,481.5 811.5,469.2 838.7,465.5 873.2,468.0 878.1,459.3 873.2,444.5 890.5,442.1 907.7,433.4 922.5,432.2 929.9,434.7 937.3,439.6 944.7,449.5 962.0,451.9 969.4,429.7 986.7,432.2 1000.0,437.1 1019.7,432.2 1029.6,434.7 1034.5,451.9 1049.3,454.4 1064.1,444.5 1081.4,451.9 1098.6,459.3 1108.5,466.7 1115.9,461.8 1123.3,476.6 1133.2,471.7 1148.0,481.5 1157.8,484.0 1167.7,471.7 1177.6,474.1 1182.5,488.9 1192.4,484.0 1197.3,469.2 1207.2,474.1 1209.6,488.9 1221.9,486.4 1236.7,484.0 1256.5,486.4 1261.4,481.5 1258.9,491.4 1249.1,498.8 1236.7,498.8 1231.8,508.6 1239.2,513.6 1229.3,533.3 1221.9,548.1 1231.8,553.0 1256.5,548.1 1271.3,523.4 1295.9,503.7 1310.7,488.9 1308.3,471.7 1330.5,469.2 1345.3,464.3 1365.0,471.7 1380.0,451.9 1385.0,470.0 1375.0,500.0 1380.0,533.3 1358.0,545.0 1345.0,540.0 1330.0,538.0 1318.0,545.0 1316.0,560.4 1295.9,562.9 1283.6,572.8 1258.9,582.6 1246.6,587.6 1226.9,592.5 1209.6,597.4 1197.3,607.3 1180.0,622.1 1162.8,622.1 1145.5,619.6 1138.1,624.5 1128.2,607.3 1106.0,602.4 1098.6,587.6 1101.1,567.8 1088.8,562.9 1074.0,560.4 1049.3,560.4 1032.1,560.4 1019.7,580.2 1000.0,590.1 974.3,587.6 954.6,587.6 952.1,580.2 947.2,562.9 952.1,558.0 937.3,558.0 912.7,558.0 902.8,548.1 868.3,548.1 838.7,555.5 838.7,570.3 858.4,580.2 826.3,587.6 814.0,597.5 801.7,612.3 789.3,629.5 776.9,633.3 776.9,565.0 764.0,550.0 742.0,541.0 733.0,525.0 737.0,512.0 754.8,520.0"/><polygon points="776.9,565.1 837.8,565.1 837.8,575.9 823.5,586.6 802.0,611.7 802.0,626.1 780.4,633.3 776.9,633.3"/><polygon points="953.8,565.6 1023.7,565.6 1018.4,579.0 980.7,589.8 953.8,587.1"/><polygon points="364.4,447.3 376.7,446.0 373.0,469.4 370.5,486.7 375.5,504.0 384.1,511.4 376.7,516.3 369.3,511.4 357.0,504.0 350.8,491.6 359.4,489.2 361.9,469.4"/><polygon points="376.7,447.3 384.1,452.2 386.6,471.9 396.4,489.2 406.3,506.4 413.7,523.7 406.3,523.7 396.4,508.9 386.6,491.6 379.2,469.4"/><polygon points="352.0,488.0 370.0,486.0 385.0,505.0 404.0,508.0 408.0,524.0 395.0,530.0 378.0,527.0 362.0,515.0 350.0,500.0"/><polygon points="376.0,531.0 392.0,533.0 398.0,550.0 412.0,568.0 427.0,587.0 442.0,605.0 452.0,618.0 440.0,622.0 426.0,614.0 411.0,600.0 397.0,585.0 386.0,568.0 380.0,550.0"/><polygon points="413.7,607.5 435.9,612.4 458.1,617.4 472.9,632.2 480.0,642.0 467.9,644.5 453.1,629.7 433.4,622.3 416.2,617.4"/><polygon points="466.0,636.0 476.0,640.0 486.0,652.0 492.0,664.0 482.0,666.0 474.0,655.0 468.0,645.0"/><polygon points="546.7,449.3 562.4,444.8 561.3,467.3 557.9,485.2 553.5,474.0"/><polygon points="575.9,442.6 591.6,449.3 584.8,456.1"/><polygon points="605.1,511.3 620.6,490.6 643.8,493.2 646.3,521.6 636.0,537.1 646.3,547.4 589.6,550.0 599.9,534.5 610.2,529.3"/><polygon points="584.4,555.1 620.6,552.5 646.3,555.1 646.3,614.4 636.0,619.6 615.4,604.1 599.9,583.5 584.4,568.0"/><polygon points="435.9,479.3 453.1,481.8 458.1,469.4 470.4,471.9 458.1,484.2 448.2,494.1 438.3,491.6"/></g><g fill="#c42e10" filter="url(#rdark)"><polygon points="751.1,518.5 772.1,511.1 794.3,508.7 799.2,503.7 806.6,496.3 814.0,481.5 811.5,469.2 838.7,465.5 873.2,468.0 878.1,459.3 873.2,444.5 890.5,442.1 907.7,433.4 922.5,432.2 929.9,434.7 937.3,439.6 944.7,449.5 962.0,451.9 969.4,429.7 986.7,432.2 1000.0,437.1 1019.7,432.2 1029.6,434.7 1034.5,451.9 1049.3,454.4 1064.1,444.5 1081.4,451.9 1098.6,459.3 1108.5,466.7 1115.9,461.8 1123.3,476.6 1133.2,471.7 1148.0,481.5 1157.8,484.0 1167.7,471.7 1177.6,474.1 1182.5,488.9 1192.4,484.0 1197.3,469.2 1207.2,474.1 1209.6,488.9 1221.9,486.4 1236.7,484.0 1256.5,486.4 1261.4,481.5 1258.9,491.4 1249.1,498.8 1236.7,498.8 1231.8,508.6 1239.2,513.6 1229.3,533.3 1221.9,548.1 1231.8,553.0 1256.5,548.1 1271.3,523.4 1295.9,503.7 1310.7,488.9 1308.3,471.7 1330.5,469.2 1345.3,464.3 1365.0,471.7 1380.0,451.9 1385.0,470.0 1375.0,500.0 1380.0,533.3 1358.0,545.0 1345.0,540.0 1330.0,538.0 1318.0,545.0 1316.0,560.4 1295.9,562.9 1283.6,572.8 1258.9,582.6 1246.6,587.6 1226.9,592.5 1209.6,597.4 1197.3,607.3 1180.0,622.1 1162.8,622.1 1145.5,619.6 1138.1,624.5 1128.2,607.3 1106.0,602.4 1098.6,587.6 1101.1,567.8 1088.8,562.9 1074.0,560.4 1049.3,560.4 1032.1,560.4 1019.7,580.2 1000.0,590.1 974.3,587.6 954.6,587.6 952.1,580.2 947.2,562.9 952.1,558.0 937.3,558.0 912.7,558.0 902.8,548.1 868.3,548.1 838.7,555.5 838.7,570.3 858.4,580.2 826.3,587.6 814.0,597.5 801.7,612.3 789.3,629.5 776.9,633.3 776.9,565.0 764.0,550.0 742.0,541.0 733.0,525.0 737.0,512.0 754.8,520.0"/><polygon points="776.9,565.1 837.8,565.1 837.8,575.9 823.5,586.6 802.0,611.7 802.0,626.1 780.4,633.3 776.9,633.3"/><polygon points="953.8,565.6 1023.7,565.6 1018.4,579.0 980.7,589.8 953.8,587.1"/><polygon points="364.4,447.3 376.7,446.0 373.0,469.4 370.5,486.7 375.5,504.0 384.1,511.4 376.7,516.3 369.3,511.4 357.0,504.0 350.8,491.6 359.4,489.2 361.9,469.4"/><polygon points="376.7,447.3 384.1,452.2 386.6,471.9 396.4,489.2 406.3,506.4 413.7,523.7 406.3,523.7 396.4,508.9 386.6,491.6 379.2,469.4"/><polygon points="352.0,488.0 370.0,486.0 385.0,505.0 404.0,508.0 408.0,524.0 395.0,530.0 378.0,527.0 362.0,515.0 350.0,500.0"/><polygon points="376.0,531.0 392.0,533.0 398.0,550.0 412.0,568.0 427.0,587.0 442.0,605.0 452.0,618.0 440.0,622.0 426.0,614.0 411.0,600.0 397.0,585.0 386.0,568.0 380.0,550.0"/><polygon points="413.7,607.5 435.9,612.4 458.1,617.4 472.9,632.2 480.0,642.0 467.9,644.5 453.1,629.7 433.4,622.3 416.2,617.4"/><polygon points="466.0,636.0 476.0,640.0 486.0,652.0 492.0,664.0 482.0,666.0 474.0,655.0 468.0,645.0"/><polygon points="546.7,449.3 562.4,444.8 561.3,467.3 557.9,485.2 553.5,474.0"/><polygon points="575.9,442.6 591.6,449.3 584.8,456.1"/><polygon points="605.1,511.3 620.6,490.6 643.8,493.2 646.3,521.6 636.0,537.1 646.3,547.4 589.6,550.0 599.9,534.5 610.2,529.3"/><polygon points="584.4,555.1 620.6,552.5 646.3,555.1 646.3,614.4 636.0,619.6 615.4,604.1 599.9,583.5 584.4,568.0"/><polygon points="435.9,479.3 453.1,481.8 458.1,469.4 470.4,471.9 458.1,484.2 448.2,494.1 438.3,491.6"/></g><g fill="#ee4408" filter="url(#rsp)"><polygon points="652.0,554.1 673.3,560.5 664.8,581.8 656.3,566.8"/><polygon points="652.0,645.6 669.1,664.8 681.8,647.8 690.4,626.5 690.4,605.2 701.0,583.9 711.6,581.8 713.8,594.5 705.3,615.8 715.9,639.3 703.1,652.0 696.7,635.0 688.2,652.0 669.1,673.3 652.0,664.8"/><polygon points="732.9,583.9 754.2,579.6 775.5,569.0 775.5,630.7 760.6,635.0 745.7,618.0 732.9,630.7 732.9,677.6 724.4,673.3 724.4,626.5 728.7,600.9"/></g><g fill="#ee4408" filter="url(#rsp2)"><polygon points="403.8,523.7 418.6,538.5 438.3,558.2 450.7,573.0 458.1,590.3 450.7,602.6 445.7,600.1 448.2,582.9 435.9,565.6 418.6,548.3 403.8,533.6"/><polygon points="440.0,498.4 455.5,521.6 473.5,521.6 481.3,537.1 499.3,542.2 517.4,534.5 540.6,539.6 543.2,547.4 525.1,552.5 504.5,552.5 486.4,550.0 471.0,542.2 455.5,534.5 440.0,521.6"/><polygon points="548.3,555.1 579.3,555.1 574.1,568.0 558.6,573.2 550.9,568.0"/><polygon points="550.9,578.3 574.1,593.8 594.8,614.4 620.6,629.9 646.3,640.2 646.3,655.7 620.6,650.6 589.6,629.9 563.8,609.3 548.3,593.8"/></g><g fill="#e5e5e5" filter="url(#rg2)"><polygon points="1111.0,570.3 1133.2,567.8 1138.1,587.6 1118.4,592.5 1108.5,582.6"/></g><g fill="#e5e5e5" filter="url(#rg2)"><polygon points="369.0,452.0 385.0,455.0 400.0,485.0 410.0,508.0 400.0,516.0 378.0,508.0 369.0,480.0"/></g><g fill="#ffff00" filter="url(#rg2)"><polygon points="750.0,669.6 758.1,666.9 774.2,680.4 790.4,672.3 809.2,665.6 825.4,657.5 852.3,653.5 861.7,657.5 889.9,650.8 904.7,646.7 924.9,656.1 941.1,658.8 965.3,660.2 1000.0,658.4 1024.5,656.8 1038.9,649.6 1049.6,667.6 1078.3,678.3 1103.4,674.7 1132.1,667.6 1153.6,674.7 1175.1,667.6 1189.5,660.4 1211.0,664.0 1218.2,646.0 1246.8,646.0 1268.4,649.6 1275.5,656.8 1261.2,667.6 1254.0,674.7 1239.7,696.2 1232.5,719.6 1211.0,724.9 1196.6,746.4 1175.1,735.7 1150.0,742.9 1124.9,723.1 1089.1,724.9 1053.2,724.9 1024.5,728.5 995.9,739.3 970.7,742.3 945.1,727.5 924.9,732.8 911.5,726.1 887.2,727.5 877.8,736.9 844.2,751.7 824.0,745.0 810.5,734.2 801.1,731.5 782.3,723.4 764.8,734.2 750.0,742.3"/></g><g fill="#e5e5e5" filter="url(#rg1)"><polygon points="828.0,669.0 878.0,665.0 880.0,688.0 855.0,692.0 830.0,686.0"/></g><g fill="#f0e400" filter="url(#ymid)"><polygon points="750.0,669.6 758.1,666.9 774.2,680.4 790.4,672.3 809.2,665.6 825.4,657.5 852.3,653.5 861.7,657.5 889.9,650.8 904.7,646.7 924.9,656.1 941.1,658.8 965.3,660.2 1000.0,658.4 1024.5,656.8 1038.9,649.6 1049.6,667.6 1078.3,678.3 1103.4,674.7 1132.1,667.6 1153.6,674.7 1175.1,667.6 1189.5,660.4 1211.0,664.0 1218.2,646.0 1246.8,646.0 1268.4,649.6 1275.5,656.8 1261.2,667.6 1254.0,674.7 1239.7,696.2 1232.5,719.6 1211.0,724.9 1196.6,746.4 1175.1,735.7 1150.0,742.9 1124.9,723.1 1089.1,724.9 1053.2,724.9 1024.5,728.5 995.9,739.3 970.7,742.3 945.1,727.5 924.9,732.8 911.5,726.1 887.2,727.5 877.8,736.9 844.2,751.7 824.0,745.0 810.5,734.2 801.1,731.5 782.3,723.4 764.8,734.2 750.0,742.3"/></g><g fill="#e6d400" filter="url(#ycore)"><polygon points="760.0,690.0 850.0,680.0 960.0,675.0 1000.0,680.0 1100.0,690.0 1200.0,680.0 1240.0,670.0 1245.0,690.0 1200.0,720.0 1100.0,712.0 1000.0,720.0 900.0,725.0 800.0,720.0 765.0,710.0"/></g><g fill="#ffff00" filter="url(#ysp)"><polygon points="463.2,555.1 499.3,552.5 543.2,552.5 543.2,573.2 525.1,593.8 538.0,614.4 527.7,645.4 504.5,655.7 486.4,629.9 476.1,604.1 463.2,583.5"/><polygon points="532.9,578.3 548.3,583.5 558.6,604.1 574.1,624.8 594.8,629.9 620.6,645.4 643.8,660.9 641.2,676.3 615.4,691.8 584.4,684.1 574.1,666.0 553.5,635.1 538.0,614.4"/><polygon points="700.0,684.0 730.0,684.0 745.0,700.0 760.0,720.0 745.0,735.0 725.0,710.0"/></g><g fill="#90ee90" filter="url(#rg1)"><polygon points="841.4,783.9 855.8,775.0 863.0,791.1 866.5,805.5 891.7,798.3 898.8,841.3 880.9,837.8 863.0,830.6 848.6,798.3"/><polygon points="1218.2,811.0 1257.6,807.4 1261.2,836.1 1254.0,857.6 1239.7,861.2 1225.3,843.3 1214.6,818.2"/><polygon points="1225.0,775.0 1236.0,773.0 1232.0,805.0 1220.0,800.0"/></g><g fill="#5cb85c" filter="url(#gmid)"><polygon points="841.4,783.9 855.8,775.0 863.0,791.1 866.5,805.5 891.7,798.3 898.8,841.3 880.9,837.8 863.0,830.6 848.6,798.3"/><polygon points="1218.2,811.0 1257.6,807.4 1261.2,836.1 1254.0,857.6 1239.7,861.2 1225.3,843.3 1214.6,818.2"/><polygon points="1225.0,775.0 1236.0,773.0 1232.0,805.0 1220.0,800.0"/></g><g fill="#90ee90" filter="url(#rg2)"><polygon points="507.0,619.0 516.0,617.0 525.0,628.0 520.0,631.0 510.0,625.0"/><polygon points="579.0,646.0 588.0,645.0 590.0,651.0 581.0,651.0"/><polygon points="523.0,650.0 530.0,648.0 535.0,664.0 529.0,666.0"/><polygon points="528.0,672.0 534.0,670.0 536.0,680.0 530.0,684.0"/></g></g>
<g fill="none" stroke="#000" stroke-width="3.8" stroke-linejoin="round" stroke-linecap="round"><polygon points="361.5,235.8 942.5,235.8 942.5,225.8 946.7,226.1 949.4,230.5 952.3,241.6 961.4,245.0 970.9,248.4 978.0,246.6 988.7,245.5 995.5,249.0 1008.7,253.7 1015.0,259.0 1020.7,260.8 1033.1,255.0 1050.2,260.0 1059.2,262.4 1044.5,268.7 1029.8,279.3 1017.1,287.2 1006.6,295.1 1012.9,296.4 1025.6,292.5 1032.9,289.8 1035.0,297.7 1042.4,299.8 1052.9,293.2 1067.6,289.8 1082.4,284.5 1095.0,275.9 1086.6,283.2 1083.4,292.5 1090.8,299.0 1102.4,301.7 1112.9,301.7 1122.3,303.8 1136.0,297.2 1157.1,294.6 1156.0,301.7 1169.7,301.7 1174.9,309.6 1185.5,312.2 1179.2,316.2 1162.3,316.2 1145.5,312.2 1128.7,316.2 1122.3,322.8 1113.9,321.4 1101.3,338.6 1098.2,342.5 1092.9,353.1 1103.4,345.2 1113.9,333.3 1107.6,345.2 1102.4,357.0 1099.2,374.1 1095.0,392.8 1097.1,407.1 1101.3,424.2 1109.7,430.3 1118.1,426.8 1124.5,416.3 1130.8,399.2 1125.5,378.1 1129.7,362.3 1133.9,343.8 1143.4,335.9 1145.5,346.5 1149.7,333.3 1156.0,329.3 1153.9,320.9 1161.7,320.6 1172.8,325.4 1181.3,330.1 1189.7,339.9 1191.8,358.3 1181.3,367.5 1179.2,378.1 1189.7,370.2 1200.2,366.2 1206.5,378.1 1210.3,393.9 1208.6,404.4 1202.3,404.4 1200.2,411.0 1197.0,411.8 1194.9,420.2 1188.6,428.2 1204.4,434.7 1225.4,433.4 1240.2,424.2 1250.3,421.0 1259.1,416.3 1266.3,413.1 1284.4,396.5 1281.2,387.0 1292.8,384.2 1311.7,387.3 1334.9,382.0 1341.2,378.1 1338.4,364.1 1349.6,355.7 1360.1,345.2 1372.7,341.2 1440.1,340.9 1448.9,333.3 1454.8,330.7 1465.3,317.5 1471.6,296.4 1487.8,276.6 1507.4,279.3 1518.1,286.7 1518.3,316.2 1526.3,325.4 1534.7,345.2 1524.2,354.4 1507.4,359.6 1492.7,364.9 1475.8,374.1 1466.4,376.8 1456.9,392.1 1454.8,397.3 1459.0,403.1 1449.5,411.0 1459.0,420.2 1461.1,425.5 1472.7,428.7 1467.4,418.4 1471.6,425.5 1469.5,429.5 1459.0,432.1 1448.5,433.4 1442.2,436.1 1432.7,438.7 1410.6,440.0 1394.8,447.1 1387.5,454.5 1387.5,461.1 1386.4,472.9 1378.0,490.1 1367.5,501.1 1354.8,484.8 1359.0,494.0 1364.7,504.6 1366.4,514.1 1358.0,530.1 1347.1,550.7 1345.4,554.1 1346.0,556.0 1350.6,566.5 1356.9,582.6 1358.4,588.9 1356.9,598.9 1342.6,605.0 1334.9,611.8 1319.1,613.9 1312.3,620.8 1305.6,629.7 1296.8,634.2 1284.4,639.0 1263.3,664.0 1245.4,679.8 1240.2,683.8 1233.9,704.8 1231.8,725.9 1233.9,739.1 1240.2,757.5 1249.6,777.3 1252.8,802.3 1260.6,823.4 1258.5,847.9 1252.8,862.9 1238.1,865.6 1223.3,839.2 1219.1,828.7 1203.4,794.4 1205.5,770.7 1197.0,758.8 1183.4,739.1 1170.7,735.1 1156.0,745.7 1142.3,733.8 1124.5,725.9 1109.7,727.2 1092.9,729.9 1082.4,727.2 1063.4,729.9 1061.3,733.0 1067.4,733.0 1068.3,739.1 1059.6,747.0 1063.6,762.8 1070.0,762.0 1071.4,758.1 1064.5,756.5 1058.2,751.7 1051.0,750.2 1046.4,758.1 1039.2,754.9 1034.6,759.6 1028.3,756.5 1022.8,750.2 1018.2,743.3 1011.9,740.9 1007.0,742.5 1004.1,747.8 995.3,747.0 985.2,741.7 971.9,741.7 969.8,744.4 949.8,754.9 938.2,765.4 918.3,778.6 899.3,797.1 896.2,810.2 900.4,843.2 890.9,840.5 876.2,836.6 850.9,802.3 829.9,770.7 821.5,753.6 811.0,742.5 792.0,739.6 783.6,743.0 774.1,763.6 758.4,754.9 745.7,745.7 741.5,731.2 735.2,718.0 714.2,699.6 703.7,689.5 667.9,689.5 667.9,701.4 607.5,701.4 528.6,670.6 530.7,664.8 480.2,669.8 477.5,664.0 476.4,654.8 463.8,641.6 453.3,636.3 453.3,637.6 444.9,631.0 438.5,628.4 425.9,620.5 409.7,619.2 405.9,607.3 400.7,594.2 388.1,578.4 379.6,562.5 377.5,553.3 369.1,546.7 367.0,532.2 356.5,525.6 341.8,501.9 338.6,478.2 327.0,461.4 331.2,451.9 333.3,433.4 331.2,420.2 323.5,398.1 329.1,383.4 333.3,354.4 336.5,328.0 336.5,309.6 334.4,296.4 333.3,288.5 322.8,264.8 320.1,252.1 335.2,256.1 353.8,257.7 357.1,260.3 360.5,252.9 355.4,250.3 352.9,246.1 357.1,241.9 362.2,240.0 360.5,237.6"/><polyline points="336.5,308.3 348.1,310.9 357.5,312.2 360.7,318.8 363.9,325.4 379.6,324.1 394.4,325.4 407.0,321.4 428.0,317.0 441.1,314.9 484.4,314.9"/><polyline points="481.9,235.8 481.9,303.8 484.4,310.4 484.4,314.9"/><polyline points="484.4,314.9 489.0,325.4 493.9,326.7 487.4,338.6 482.7,349.1 478.5,359.6 484.2,371.5 482.1,376.0 482.1,420.2"/><polyline points="331.2,420.2 607.9,420.2"/><polyline points="419.6,420.2 419.6,499.3 532.6,604.7"/><polyline points="544.8,420.2 544.8,552.0"/><polyline points="544.8,552.0 544.8,574.4 531.1,577.0 533.9,600.2 532.6,604.7"/><polyline points="532.6,604.7 536.4,623.1 533.2,644.2 534.9,657.4 530.7,664.8"/><polyline points="502.7,235.8 502.7,262.7 510.1,270.1 518.5,281.9 533.2,297.7 536.4,318.8 548.0,324.1 557.4,339.9 571.1,355.7 598.5,353.1 607.9,354.9"/><polyline points="607.9,341.2 607.9,446.6"/><polyline points="607.9,341.2 755.2,341.2"/><polyline points="755.2,235.8 755.2,446.6"/><polyline points="607.9,446.6 797.3,446.6"/><polyline points="650.0,446.6 650.0,701.4"/><polyline points="544.8,552.0 953.6,552.0"/><polyline points="797.3,446.6 797.3,552.0"/><polyline points="755.2,446.6 797.3,446.6 797.3,472.9 939.3,472.9"/><polyline points="777.3,552.0 777.3,565.2 840.4,565.2"/><polyline points="776.2,565.2 776.2,683.8 701.1,683.8 703.7,689.5"/><polyline points="755.2,316.4 912.8,316.4"/><polyline points="898.7,235.8 900.4,256.9 906.7,272.7 907.7,291.1 911.9,306.9 912.8,316.4"/><polyline points="912.8,316.4 906.7,325.4 915.1,333.3 915.1,380.7"/><polyline points="755.2,393.9 872.0,393.9 893.0,397.9 911.9,404.4 915.1,407.1"/><polyline points="915.1,407.1 911.9,393.9 915.1,380.7"/><polyline points="915.1,380.7 1025.1,380.7"/><polyline points="1006.6,295.9 1002.4,299.0 1002.6,313.0 993.0,326.7 991.9,341.2 991.9,347.8 1008.7,357.0 1025.1,380.7"/><polyline points="915.1,407.1 922.5,420.2 926.0,440.0 927.7,457.1 939.3,472.9"/><polyline points="929.4,457.7 1014.4,457.1 1020.9,462.9"/><polyline points="1025.1,380.7 1027.7,400.5 1038.2,409.7 1047.7,425.5 1038.2,433.4 1029.8,442.6 1027.7,451.9 1020.9,462.9"/><polyline points="953.6,552.0 953.6,496.7 945.6,486.1 939.3,472.9"/><polyline points="840.4,565.2 840.4,616.3 850.9,620.5 857.2,625.8 872.0,628.4 884.6,633.7 899.3,637.6 914.1,636.3 935.1,634.5 946.7,640.3 956.6,640.5"/><polyline points="953.6,552.0 953.6,565.2 957.6,594.2 956.6,640.5"/><polyline points="956.6,640.5 965.8,642.9 965.8,684.0 975.1,710.1 976.1,723.3 971.9,736.5 969.8,744.4"/><polyline points="965.8,656.9 1027.7,656.9"/><polyline points="1027.7,656.9 1030.2,661.1 1028.3,681.1 1018.2,701.4 1016.3,710.1 1056.5,710.1 1059.2,731.2"/><polyline points="953.6,565.2 1047.7,565.2 1043.0,578.4 1057.1,578.4"/><polyline points="1066.6,552.0 1060.5,562.3 1056.5,580.2 1048.5,596.5 1040.3,612.6 1030.2,626.6 1026.2,640.8 1027.7,656.9"/><polyline points="1020.9,462.9 1023.5,478.2 1038.2,494.0 1047.0,509.8 1059.2,528.3 1062.6,539.9 1066.6,552.0"/><polyline points="1037.3,407.1 1097.1,407.1"/><polyline points="1102.8,426.6 1102.8,490.1 1101.3,503.3 1093.9,517.7 1090.8,530.9"/><polyline points="1090.8,530.9 1084.5,541.5 1068.3,552.0"/><polyline points="1109.7,426.6 1160.2,426.6 1188.6,427.4"/><polyline points="1159.8,426.6 1159.8,496.7"/><polyline points="1090.8,530.9 1103.4,528.3 1118.1,527.0 1124.5,525.6 1139.2,519.1 1147.6,507.2 1160.2,504.6 1166.5,496.7 1183.4,508.5 1198.1,507.2 1206.5,515.1 1214.9,501.9 1227.5,492.7 1240.2,483.5 1245.4,471.6 1250.3,456.1"/><polyline points="1250.3,456.1 1250.3,420.2"/><polyline points="1250.3,456.1 1250.3,480.3 1349.8,480.3"/><polyline points="1061.3,563.9 1225.9,562.8"/><polyline points="1206.5,515.1 1219.1,537.5 1219.8,537.8 1204.4,548.0 1184.0,562.5"/><polyline points="1219.8,537.8 1236.0,545.4 1254.9,540.1 1261.2,528.3 1268.6,515.1 1278.0,508.5 1286.5,499.3 1295.9,488.8 1307.5,491.4 1309.2,490.9"/><polyline points="1309.2,490.9 1297.0,483.5 1286.5,483.5 1272.2,494.0 1272.2,480.3"/><polyline points="1349.8,480.3 1349.8,513.8 1365.4,513.8"/><polyline points="1349.8,480.3 1353.8,477.4 1358.0,478.2"/><polyline points="1309.2,490.9 1314.9,494.0 1323.3,501.9 1320.1,515.1 1339.1,525.6"/><polyline points="1184.0,562.5 1347.5,563.9"/><polyline points="1225.9,562.8 1219.1,573.1 1206.5,578.4 1196.0,584.9 1179.2,591.5 1170.3,604.7"/><polyline points="1170.3,604.7 1044.5,604.7"/><polyline points="1196.0,604.7 1210.7,599.4 1239.3,600.7 1241.6,602.1 1244.4,610.0 1268.2,610.0 1291.7,634.7"/><polyline points="1170.3,604.7 1196.0,604.7"/><polyline points="1196.0,604.7 1206.5,617.9 1214.9,635.0 1220.2,645.5 1229.7,657.4 1238.1,681.1"/><polyline points="1143.4,604.7 1152.2,660.0 1156.0,683.8 1155.0,710.1"/><polyline points="1156.0,710.1 1159.0,717.7 1185.5,719.3 1214.9,721.4 1218.1,725.9 1230.7,718.0"/><polyline points="1156.0,710.1 1101.3,710.1 1103.4,728.5"/><polyline points="1090.8,604.7 1088.7,631.0 1084.5,725.9"/><polyline points="1448.9,333.3 1451.0,380.7 1456.9,392.1"/><polyline points="1440.1,340.9 1423.2,362.3 1420.1,378.1 1418.0,401.0"/><polyline points="1401.1,340.9 1401.1,367.5 1403.2,378.1 1403.0,400.5"/><polyline points="1403.0,401.0 1444.3,401.8 1451.6,397.3 1454.8,397.3"/><polyline points="1403.0,400.5 1398.0,418.9"/><polyline points="1398.0,418.9 1398.0,441.3 1394.8,446.6"/><polyline points="1398.0,418.9 1433.7,419.7 1442.6,419.7 1442.6,422.9 1448.5,433.4"/><polyline points="1433.7,419.7 1433.7,437.9"/><polyline points="1266.3,413.1 1266.3,420.2 1359.0,420.2 1372.7,437.4"/><polyline points="1372.7,437.4 1387.5,446.6 1387.5,454.5"/><polyline points="1372.7,437.4 1364.3,450.6 1362.2,457.1 1370.6,467.7 1364.3,474.3 1354.8,486.1"/><polyline points="1042.0,299.8 1050.8,306.9 1069.7,312.2 1086.6,316.2 1096.0,332.0 1101.3,338.6"/><polyline points="1041.6,731.4 1047.0,725.1 1054.2,729.1 1058.8,733.0 1058.2,739.1 1052.5,736.2 1043.2,734.6 1041.6,731.4"/><polygon points="1387.5,457.1 1393.8,450.0 1416.9,447.4 1432.7,444.8 1419.0,451.3 1398.0,457.1" fill="#000"/><polygon points="357.0,242.0 363.0,240.0 367.1,240.5 369.3,247.2 367.1,258.4 373.8,261.8 371.6,278.6 364.8,287.6 355.9,285.3 353.6,278.6 358.1,269.6 360.4,261.8 357.1,260.3 360.5,252.8 355.4,250.2 352.9,246.0" fill="#000"/><polygon points="367.0,521.0 371.0,520.0 374.0,526.0 377.0,534.0 377.0,540.0 373.0,538.0 370.0,531.0" fill="#000"/><polyline points="335.7,286.4 340.2,288.7 339.1,296.5 336.8,305.5 334.6,303.3 334.6,289.8"/><polyline points="1353.0,479.6 1343.0,485.8 1334.5,492.0 1335.8,501.8 1334.5,514.0 1338.0,519.0 1337.0,529.0 1339.5,538.8 1337.0,552.3"/><polyline points="1354.0,480.8 1344.4,490.7 1342.0,499.3 1340.7,508.0 1344.4,515.3 1351.8,521.5 1353.0,530.2 1349.3,538.8 1346.9,548.6"/><polyline points="1326.0,524.0 1338.0,533.8"/><polyline points="1329.6,538.8 1340.7,548.6"/><polyline points="1324.7,545.0 1335.8,553.6"/><polyline points="1330.4,569.1 1331.5,580.4 1343.8,575.9 1348.3,584.8 1343.8,589.3 1325.9,591.6 1337.1,598.3 1323.6,600.5 1330.4,607.3 1339.3,606.1"/><ellipse cx="1458.6" cy="436.1" rx="4.5" ry="3.0" fill="#000"/><ellipse cx="1469.5" cy="438.5" rx="4.0" ry="3.0" fill="#000"/></g>
</svg>
<div class="t" style="top:26px;font-size:33.6px;font-weight:bold;line-height:39.2px">Asiatic rice borer: Adult relative pop. size for each gen. w/<br>climate stress exclusion 07/29/2026</div>
<div class="t" style="top:122.5px;font-size:27.1px;line-height:32.6px">Maps and modeling 01/06/2026 by Oregon State University IPPC USPEST.ORG and<br>USDA-APHIS-PPQ; climate data from OSU PRISM Climate Group</div>
<div id="lg" style="position:absolute;left:1580px;top:0">
<div style="position:absolute;left:0;top:367.5px;font-size:23.5px;font-weight:bold;line-height:27.8px;letter-spacing:1.2px;white-space:nowrap">Adult relative<br>pop. size<br>(peak)</div>
<div style="position:absolute;left:0;top:458.3px;width:25px;height:25.5px;background:#4d4d4d"></div>
<div class="lb" style="top:456.3px">excl.-severe</div>
<div style="position:absolute;left:0;top:483.7px;width:25px;height:25.5px;background:#b3b3b3"></div>
<div class="lb" style="top:481.7px">excl.-moderate</div>
<div style="position:absolute;left:0;top:509.1px;width:25px;height:25.5px;background:#e5e5e5"></div>
<div class="lb" style="top:507.1px">other stages</div>
<div style="position:absolute;left:0;top:534.5px;width:25px;height:25.5px;background:#0027d9"></div>
<div class="lb" style="top:532.5px">0 gens.</div>
<div style="position:absolute;left:0;top:559.9px;width:25px;height:25.5px;background:#a6261a"></div>
<div class="lb" style="top:557.9px">1 gens.</div>
<div style="position:absolute;left:0;top:585.3px;width:25px;height:25.5px;background:#d9c200"></div>
<div class="lb" style="top:583.3px">2 gens.</div>
<div style="position:absolute;left:0;top:610.7px;width:25px;height:25.5px;background:#228b2d"></div>
<div class="lb" style="top:608.7px">3 gens.</div>
<div style="position:absolute;left:0;top:636.1px;width:25px;height:25.5px;background:#a600a6"></div>
<div class="lb" style="top:634.1px">4 gens.</div>
<div style="position:absolute;left:0;top:661.5px;width:25px;height:25.5px;background:#d97017"></div>
<div class="lb" style="top:659.5px">5 gens.</div>
<div style="position:absolute;left:0;top:686.9px;width:25px;height:25.5px;background:#00a3a3"></div>
<div class="lb" style="top:684.9px">6 gens.</div>
<div style="position:absolute;left:0;top:712.3px;width:25px;height:25.5px;background:#5aa80f"></div>
<div class="lb" style="top:710.3px">7 gens.</div>
</div>
</body></html>
